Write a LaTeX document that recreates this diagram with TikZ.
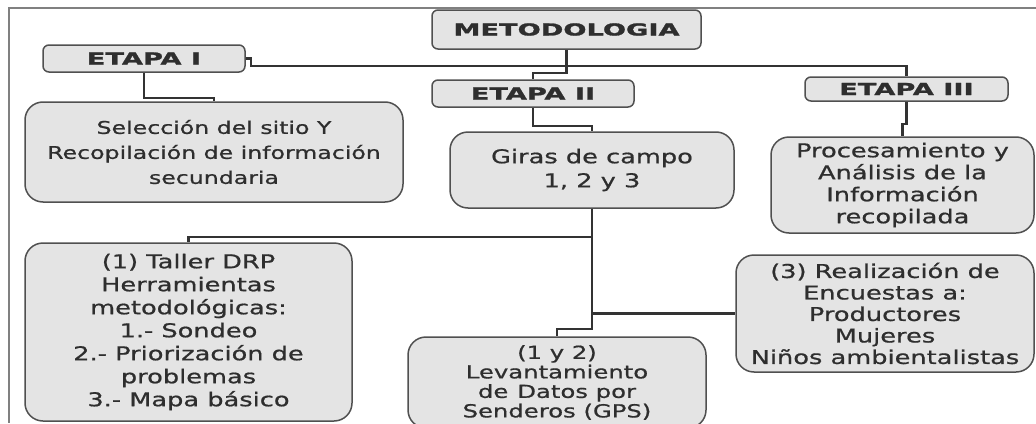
\documentclass[tikz,border=0pt]{standalone}
\usepackage{fontspec}
\newfontfamily\bodyfont[FakeStretch=1.35,FakeBold=0.8]{DejaVu Sans}
\newfontfamily\headfont[FakeStretch=1.65,FakeBold=1.6]{DejaVu Sans}
\definecolor{boxfill}{HTML}{E4E4E4}
\definecolor{boxline}{HTML}{505050}
\definecolor{txt}{HTML}{2E2E2E}
\definecolor{wire}{HTML}{333333}
\begin{document}
\begin{tikzpicture}[x=1pt,y=-1pt,
	box/.style={draw=boxline,fill=boxfill,line width=1.5pt,rounded corners=18pt,inner sep=0pt,
		align=center,text=txt,font=\bodyfont\fontsize{19}{22}\selectfont},
	headbox/.style={draw=boxline,fill=boxfill,line width=1.5pt,rounded corners=6pt,inner sep=0pt,
		align=center,text=txt,font=\headfont\bfseries\fontsize{16.5}{18}\selectfont},
	link/.style={draw=wire,line width=2.2pt}]
\useasboundingbox (0,0) rectangle (1036,423);
\clip (0,0) rectangle (1036,423);
\draw [line width=1.5pt,draw=gray] (1036,8) -- (9,8) -- (9,423);
% encabezados
\node[headbox,minimum width=269,minimum height=39] (met) at (566.5,29.5) {METODOLOGIA};
\node[headbox,minimum width=202,minimum height=27] (etI) at (144,58.5) {ETAPA I};
\node[headbox,minimum width=202,minimum height=27] (etII) at (533,93.5) {ETAPA II};
\node[headbox,minimum width=203,minimum height=24] (etIII) at (906.5,89) {ETAPA III};
% cajas
\node[box,minimum width=378,minimum height=100,font=\bodyfont\fontsize{17.5}{25}\selectfont] (sel) at (214,152)
	{Selección del sitio Y\\Recopilación de información\\secundaria};
\node[box,minimum width=284,minimum height=76,font=\bodyfont\fontsize{19}{24}\selectfont] (giras) at (592,170)
	{Giras de campo\\1, 2 y 3};
\node[box,minimum width=263,minimum height=96] (proc) at (902.5,185)
	{Procesamiento y\\Análisis de la\\Información\\recopilada};
\node[box,minimum width=327,minimum height=178,font=\bodyfont\fontsize{19}{23}\selectfont] (taller) at (188.5,332)
	{(1) Taller DRP\\Herramientas\\metodológicas:\\1.- Sondeo\\2.- Priorización de\\problemas\\3.- Mapa básico};
\node[box,minimum width=298,minimum height=91,font=\bodyfont\fontsize{18}{19.5}\selectfont] (levant) at (557,382.5)
	{(1 y 2)\\Levantamiento\\de\enspace Datos por\\Senderos (GPS)};
\node[box,minimum width=298,minimum height=117,font=\bodyfont\fontsize{19}{21.5}\selectfont] (realiz) at (885,313.5)
	{(3) Realización de\\Encuestas a:\\Productores\\Mujeres\\Niños ambientalistas};
% conexiones
\coordinate (bus) at (566.5,66);
\draw [link] (etI.east) -- ++(5,0) |- (bus) -| (etIII.north);
\draw [link] (met.south) -- ++(0,23) -| (etII.north);
\draw [link] (etI.south) -- ++(0,25) -| (sel.north);
\draw [link] (etII.south) -- ++(0,18) -| (giras.north);
\draw [link] (etIII.south) -- ++(0,22) -| (proc.north);
\draw [link] (giras.south) -- ++(0,28) -| (taller.north);
\draw [link] (giras.south) |- (realiz.west);
\draw [link] (giras.south) -- ++(0,120) -| (levant.north);
\end{tikzpicture}
\end{document}
